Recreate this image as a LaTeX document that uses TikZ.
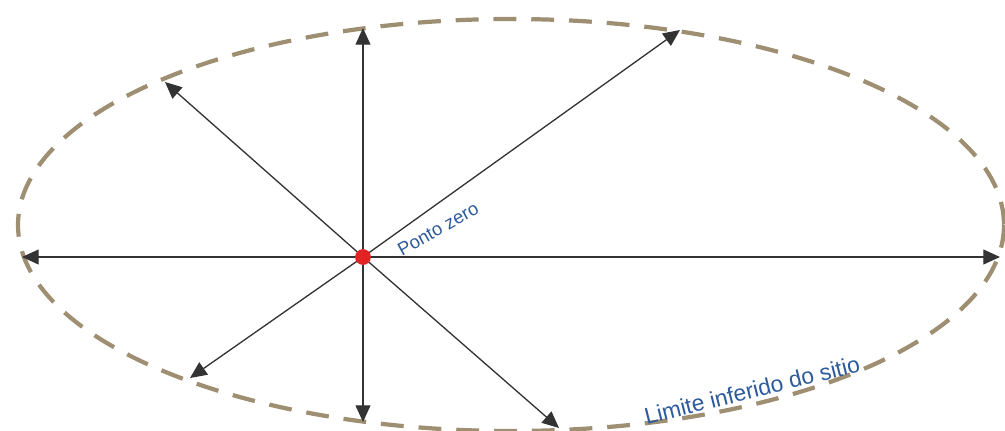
\documentclass[tikz,border=0pt]{standalone}
\usepackage{fontspec}
\setmainfont{Liberation Sans}
\usepackage{tikz}
\usetikzlibrary{arrows.meta}
\definecolor{ink}{HTML}{333333}
\definecolor{rim}{HTML}{9E8E72}
\definecolor{site}{HTML}{2C5A9A}
\definecolor{dot}{HTML}{E12323}
\tikzset{
  ray/.style={-{Triangle[length=9.5pt,width=8.5pt]},draw=ink,line width=0.75pt},
  limit/.style={draw=rim,line width=2.4pt,dash pattern=on 13pt off 8.5pt},
  lbl/.style={font=\fontsize{10.5}{12}\selectfont,text=site,inner sep=0pt}}
\begin{document}
\begin{tikzpicture}[x=0.02cm,y=-0.02cm]
  \useasboundingbox (0,0) rectangle (1005,430);
  % inferred site limit
  \draw[limit] (511,225) ellipse [x radius=493,y radius=206];
  % zero point and tips on the limit
  \coordinate (zero) at (363,257);
  \coordinate (tipW) at (22,257);
  \coordinate (tipE) at (1000,257);
  \coordinate (tipN) at (363,28);
  \coordinate (tipS) at (363,422);
  \coordinate (tipNW) at (165,82);
  \coordinate (tipNE) at (680,30);
  \coordinate (tipSW) at (190,378);
  \coordinate (tipSE) at (559,428);
  \foreach \t in {tipW,tipE,tipN,tipS,tipNW,tipNE,tipSW,tipSE}
    \draw[ray] (zero) -- (\t);
  \node[circle,fill=dot,minimum size=9pt,inner sep=0pt] (pz) at (zero) {};
  \node[lbl,rotate=29] (ponto) at (438,229) {Ponto zero};
  \node[lbl,rotate=14,font=\fontsize{13}{15}\selectfont] (limite) at (752,390) {Limite inferido do sitio};
\end{tikzpicture}
\end{document}
